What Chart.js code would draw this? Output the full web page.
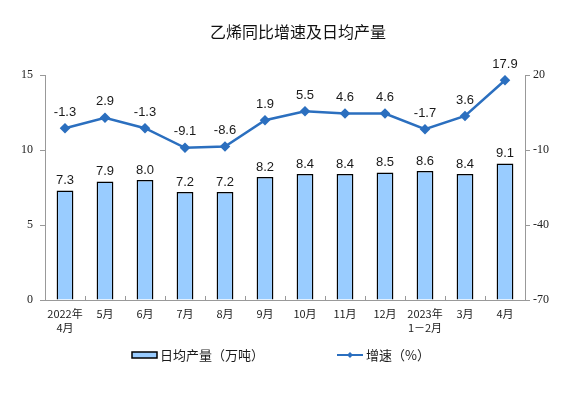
<!DOCTYPE html>
<html>
<head>
<meta charset="utf-8">
<script src="https://cdn.jsdelivr.net/npm/chart.js@4"></script>
<style>
  html, body { margin: 0; padding: 0; background: #fff; }
  #wrap { width: 574px; height: 394px; }
</style>
</head>
<body>
<div id="wrap"><canvas id="chart" width="574" height="394"></canvas></div>
<script>
const months = [["2022年", "4月"], "5月", "6月", "7月", "8月", "9月", "10月", "11月", "12月", ["2023年", "1－2月"], "3月", "4月"];
const dailyOutput = [7.3, 7.9, 8.0, 7.2, 7.2, 8.2, 8.4, 8.4, 8.5, 8.6, 8.4, 9.1];
const growthRate = [-1.3, 2.9, -1.3, -9.1, -8.6, 1.9, 5.5, 4.6, 4.6, -1.7, 3.6, 17.9];
const leftTicks = [0, 5, 10, 15];
const rightTicks = [-70, -40, -10, 20];

const barColor = '#99ccff';
const lineColor = '#2b6fbf';

// value labels above bars and points
const valueLabels = {
    id: 'valueLabels',
    afterDatasetsDraw(chart) {
        const ctx = chart.ctx;
        ctx.save();
        ctx.font = '13px "Liberation Sans", Arial, sans-serif';
        ctx.fillStyle = '#1a1a1a';
        ctx.textAlign = 'center';
        ctx.textBaseline = 'middle';
        chart.data.datasets.forEach((ds, i) => {
            const meta = chart.getDatasetMeta(i);
            meta.data.forEach((el, j) => {
                const off = ds.type === 'line' ? 16 : 10;
                ctx.fillText(ds.data[j].toFixed(1), el.x, el.y - off);
            });
        });
        ctx.restore();
    }
};

// small upward ticks at category boundaries on the x axis
const xTicks = {
    id: 'xTicks',
    afterDraw(chart) {
        const ctx = chart.ctx;
        const area = chart.chartArea;
        const n = months.length;
        const w = (area.right - area.left) / n;
        ctx.save();
        ctx.strokeStyle = '#999';
        ctx.lineWidth = 1;
        ctx.beginPath();
        for (let i = 1; i < n; i++) {
            const x = Math.round(area.left + i * w) + 0.5;
            ctx.moveTo(x, area.bottom);
            ctx.lineTo(x, area.bottom - 4);
        }
        ctx.stroke();
        ctx.restore();
    }
};

// title and legend drawn by hand to match the spacing of the original
const titleAndLegend = {
    id: 'titleAndLegend',
    afterDraw(chart) {
        const ctx = chart.ctx;
        ctx.save();
        ctx.fillStyle = '#111';
        ctx.font = '16px "Noto Sans CJK SC", sans-serif';
        ctx.textAlign = 'center';
        ctx.textBaseline = 'middle';
        ctx.fillText('乙烯同比增速及日均产量', 298, 32);

        const y = 355;
        ctx.fillStyle = barColor;
        ctx.strokeStyle = '#000';
        ctx.lineWidth = 1.5;
        ctx.fillRect(132, y - 3, 25, 6);
        ctx.strokeRect(132, y - 3, 25, 6);

        ctx.strokeStyle = lineColor;
        ctx.lineWidth = 2;
        ctx.beginPath();
        ctx.moveTo(337, y);
        ctx.lineTo(363, y);
        ctx.stroke();
        ctx.fillStyle = lineColor;
        ctx.beginPath();
        ctx.moveTo(350, y - 3);
        ctx.lineTo(353, y);
        ctx.lineTo(350, y + 3);
        ctx.lineTo(347, y);
        ctx.closePath();
        ctx.fill();

        ctx.fillStyle = '#1a1a1a';
        ctx.font = '13px "Noto Sans CJK SC", sans-serif';
        ctx.textAlign = 'left';
        ctx.fillText('日均产量（万吨）', 160, y);
        ctx.fillText('增速（%）', 366, y);
        ctx.restore();
    }
};

new Chart(document.getElementById('chart').getContext('2d'), {
    data: {
        labels: months,
        datasets: [
            {
                type: 'line',
                label: '增速（%）',
                data: growthRate,
                yAxisID: 'y1',
                borderColor: lineColor,
                backgroundColor: lineColor,
                borderWidth: 2.5,
                pointStyle: 'rectRot',
                pointRadius: 3.5,
                pointHoverRadius: 3.5,
                tension: 0
            },
            {
                type: 'bar',
                label: '日均产量（万吨）',
                data: dailyOutput,
                yAxisID: 'y',
                backgroundColor: barColor,
                borderColor: '#000',
                borderWidth: 1.5,
                barPercentage: 0.42,
                categoryPercentage: 1.0
            }
        ]
    },
    options: {
        responsive: false,
        animation: false,
        layout: { padding: { left: 0, right: 0, top: 75, bottom: 0 } },
        plugins: {
            legend: { display: false },
            tooltip: { enabled: false },
            title: { display: false }
        },
        scales: {
            x: {
                offset: true,
                grid: { display: false, drawTicks: false },
                border: { color: '#999' },
                ticks: {
                    color: '#222',
                    padding: 6,
                    maxRotation: 0,
                    autoSkip: false,
                    font: { family: '"Noto Sans CJK SC", sans-serif', size: 11, lineHeight: 1.35 }
                },
                afterFit(scale) { scale.height = 94; }
            },
            y: {
                position: 'left',
                min: 0,
                max: 15,
                afterBuildTicks(scale) { scale.ticks = leftTicks.map(v => ({ value: v })); },
                grid: { drawOnChartArea: false, tickLength: 5, color: '#999' },
                border: { color: '#999' },
                ticks: {
                    color: '#222',
                    padding: 7,
                    font: { family: '"Liberation Serif", serif', size: 12 }
                },
                afterFit(scale) { scale.width = 45; }
            },
            y1: {
                position: 'right',
                min: -70,
                max: 20,
                afterBuildTicks(scale) { scale.ticks = rightTicks.map(v => ({ value: v })); },
                grid: { drawOnChartArea: false, tickLength: 5, color: '#999' },
                border: { color: '#999' },
                ticks: {
                    color: '#222',
                    padding: 3,
                    font: { family: '"Liberation Serif", serif', size: 12 }
                },
                afterFit(scale) { scale.width = 49; }
            }
        }
    },
    plugins: [valueLabels, xTicks, titleAndLegend]
});
</script>
</body>
</html>
